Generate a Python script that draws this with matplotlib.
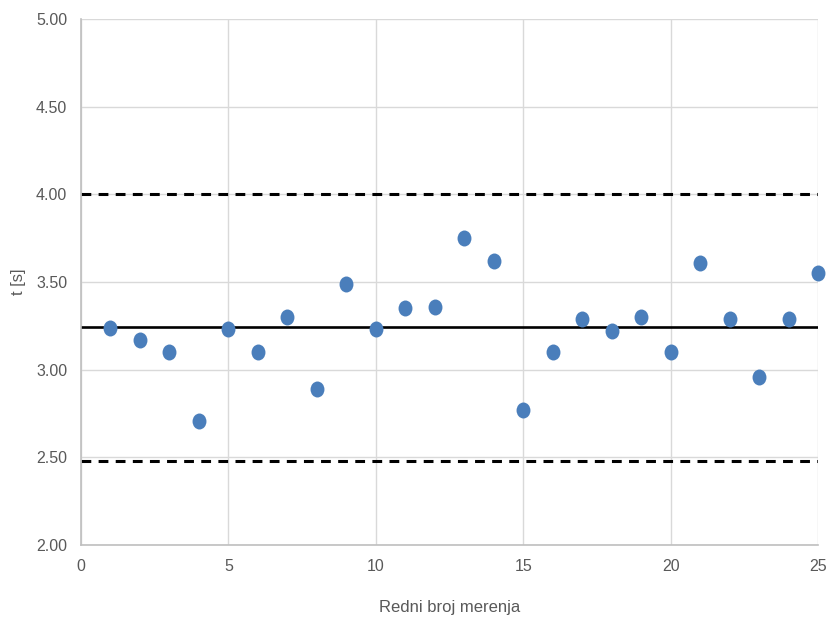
import numpy as np
import matplotlib
matplotlib.use("Agg")
import matplotlib.pyplot as plt
from matplotlib.path import Path
from matplotlib.transforms import Affine2D
from matplotlib import font_manager

# Measurement data
measurement_no = list(range(1, 26))
times = [3.24, 3.17, 3.10, 2.71, 3.23, 3.10, 3.30, 2.89, 3.49, 3.23,
         3.35, 3.36, 3.75, 3.62, 2.77, 3.10, 3.29, 3.22, 3.30, 3.10,
         3.61, 3.29, 2.96, 3.29, 3.55]
upper_limit = 4.00
lower_limit = 2.48

x_ticks = [0, 5, 10, 15, 20, 25]
y_ticks = [2.00, 2.50, 3.00, 3.50, 4.00, 4.50, 5.00]

# Pick a narrow sans face if available
names = {f.name for f in font_manager.fontManager.ttflist}
family = ["Liberation Sans Narrow", "DejaVu Sans"] if "Liberation Sans Narrow" in names else ["Liberation Sans", "DejaVu Sans"]
plt.rcParams["font.family"] = family

text_color = "#595959"
grid_color = "#d9d9d9"
dot_color = "#4a7ebb"

fig = plt.figure(figsize=(8.29, 6.18), dpi=100)
ax = fig.add_axes([81 / 829, (618 - 545) / 618, (818 - 81) / 829, (545 - 19) / 618])

ax.set_xlim(0, 25)
ax.set_ylim(2.0, 5.0)
ax.set_xticks(x_ticks)
ax.set_yticks(y_ticks)
ax.set_yticklabels([f"{v:.2f}" for v in y_ticks])
ax.grid(True, color=grid_color, linewidth=1.0)
ax.set_axisbelow(True)
for side in ("top", "right"):
    ax.spines[side].set_visible(False)
for side in ("left", "bottom"):
    ax.spines[side].set_color("#bfbfbf")
    ax.spines[side].set_linewidth(1.2)
ax.tick_params(length=0, labelsize=11.5, colors=text_color, pad=10)

mean_t = np.mean(times)
ax.plot([0, 25], [mean_t, mean_t], color="black", linewidth=1.9, zorder=2)
for lim in (upper_limit, lower_limit):
    ax.plot([0, 25], [lim, lim], color="black", linewidth=2.2,
            dashes=(3.2, 2.4), zorder=2)

# Slightly tall elliptical marker
circ = Path.unit_circle()
ellipse = circ.transformed(Affine2D().scale(0.87, 1.0))
ax.plot(measurement_no, times, linestyle="none", marker=ellipse,
        markersize=11.5, color=dot_color, markeredgewidth=0,
        zorder=3, clip_on=False)

ax.set_xlabel("Redni broj merenja", fontsize=12, color=text_color, labelpad=19)
ax.set_ylabel("t [s]", fontsize=12, color=text_color, labelpad=7)

fig.savefig("out.png", dpi=100)
